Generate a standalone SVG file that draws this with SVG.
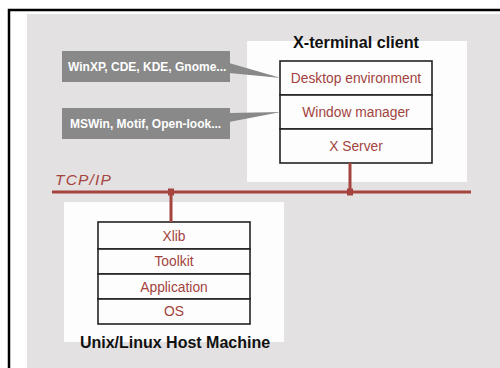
<svg xmlns="http://www.w3.org/2000/svg" width="500" height="368" viewBox="0 0 500 368">
<style>
.lay{fill:#fdfdfd;stroke:#222;stroke-width:1.6}
.lt{font-family:"Liberation Sans",Arial,sans-serif;font-size:13.8px;fill:#a3433d;text-anchor:middle}
.title{font-family:"Liberation Sans",Arial,sans-serif;font-size:16.2px;font-weight:bold;fill:#111;text-anchor:middle}
.co{fill:#898989}
.ct{font-family:"Liberation Sans",Arial,sans-serif;font-size:12px;font-weight:bold;fill:#fff}
.net{stroke:#a5443e;stroke-width:3;fill:none}
.jn{fill:#a5443e}
</style>
<rect x="0" y="0" width="500" height="368" fill="#fff"/>
<rect x="9" y="10" width="500" height="370" fill="none" stroke="#000" stroke-width="2.5"/>
<rect x="27" y="14" width="473" height="354" fill="#e3e1e1"/>

<g id="x-terminal">
<rect x="247" y="41" width="220" height="141" fill="#fdfdfd"/>
<text class="title" x="356" y="48">X-terminal client</text>
<rect class="lay" x="280" y="61" width="152" height="34"/>
<rect class="lay" x="280" y="95" width="152" height="34"/>
<rect class="lay" x="280" y="129" width="152" height="34"/>
<text class="lt" x="356" y="83">Desktop environment</text>
<text class="lt" x="356" y="117">Window manager</text>
<text class="lt" x="356" y="150.5">X Server</text>
</g>

<g id="callout-desktop">
<rect class="co" x="62" y="51" width="168" height="31"/>
<polygon class="co" points="229,63 281,78 229,73"/>
<text class="ct" x="68" y="71">WinXP, CDE, KDE, Gnome...</text>
</g>

<g id="callout-wm">
<rect class="co" x="62" y="108" width="168" height="31"/>
<polygon class="co" points="229,113 281,112 229,122"/>
<text class="ct" x="70" y="128">MSWin, Motif, Open-look...</text>
</g>

<g id="host">
<rect x="64" y="202" width="220" height="140" fill="#fdfdfd"/>
<rect class="lay" x="98" y="222" width="152" height="27"/>
<rect class="lay" x="98" y="249" width="152" height="25"/>
<rect class="lay" x="98" y="274" width="152" height="25"/>
<rect class="lay" x="98" y="299" width="152" height="25"/>
<text class="lt" x="174" y="240.5">Xlib</text>
<text class="lt" x="174" y="266">Toolkit</text>
<text class="lt" x="174" y="291.5">Application</text>
<text class="lt" x="174" y="316">OS</text>
<text class="title" x="175" y="348" style="font-size:16px">Unix/Linux Host Machine</text>
</g>

<g id="connectors">
<text x="55" y="185" style="font-family:'Liberation Sans',Arial,sans-serif;font-size:15.5px;font-style:italic;letter-spacing:1.2px;fill:#a5443e">TCP/IP</text>
<line class="net" x1="52" y1="192" x2="471" y2="192"/>
<line class="net" x1="350" y1="163" x2="350" y2="192"/>
<line class="net" x1="171" y1="192" x2="171" y2="222"/>
<rect class="jn" x="347" y="188.5" width="6" height="7"/>
<rect class="jn" x="168" y="188.5" width="6" height="7"/>
</g>
</svg>
